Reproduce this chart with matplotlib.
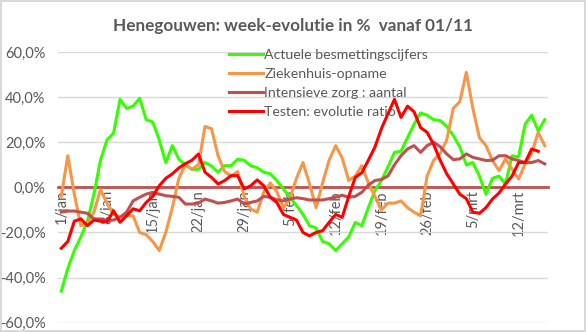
import matplotlib
matplotlib.use("Agg")
import matplotlib.pyplot as plt
import numpy as np

# week-evolutie in %, dagelijks van 1/jan t/m 16/mrt
besmettingen = [
    -46, -36, -28, -22, -15, -3, 12, 21, 24, 39,
    35, 36, 39.5, 30, 29, 21, 11, 18.5, 12.5, 10,
    8, 8, 11, 9.5, 6.7, 9.6, 9.6, 12.5, 12, 9.6,
    8.7, 6.7, 6, 3, -0.7, -4.4, -8, -12, -17, -18,
    -24, -25, -28, -25, -22, -15.5, -17, -9, -1.5, 3,
    9, 15.5, 16, 22, 28, 33, 32, 30, 29.6, 27,
    23, 18, 10, 11, 5, -3, 4, 5, 1.5, 14,
    13.5, 28, 32, 25, 30,
]
ziekenhuis = [
    -4, 14, -3, -17, -16, -11, -1, -7, -12, -13,
    -12.6, -12.6, -20, -21, -24, -28, -20, -9, 4, 10,
    8, 10, 27, 26, 14, 7, 5, 7, -4, -9.6,
    -11, -2, 2, -2, -9, -5, 4, 11, 1.5, -9,
    2, 12, 18.5, 13, 3, 5, 9.6, 2, -4, -10,
    -7, -7, -6, -9, -11, -12.6, 5, 12, 15, 21,
    35, 38, 51, 35, 22, 18.5, 12, 7.4, 12.6, 8,
    3.7, 10.4, 15, 24.4, 18.5,
]
intensieve_zorg = [
    -11, -10.5, -10.5, -11, -11.5, -14, -14, -14.8, -14.5, -13.3,
    -11, -6, -4.4, -3, -2.2, -3, -3.7, -4, -4.4, -7.4,
    -7.4, -7, -5.2, -6, -7, -6.7, -6, -5.2, -7.4, -6.7,
    -6, -4, -4.4, -5.5, -6, -5.2, -4.6, -5, -5.6, -5.6,
    -5.6, -5, -4.4, -3.5, -4.4, -4, -2.2, 1, 3, 3.5,
    5, 10, 14, 17, 18.5, 15.5, 18.5, 20, 18, 14.8,
    12.3, 12.6, 14.8, 13.3, 12.6, 11.9, 12, 14, 14, 12.6,
    11.9, 11, 11, 11.9, 10.4,
]
testen = [
    -27, -24, -15, -14, -17, -14.5, -15, -15.3, -10.4, -15.5,
    -12.6, -9.5, -10.4, -6.7, -4, 0.7, 4, 6, 8.6, 10.5,
    12, 14.8, 6.7, 4.4, 1.5, 3, 5.2, 5.2, -0.7, 0.7,
    3.3, 0.7, -4.4, -6.7, -12, -13.3, -14.5, -20, -21.5, -20,
    -19.2, -15.5, -12, -13.3, -4, 4.4, 6.5, 12, 17.8, 26,
    32.6, 39, 31, 36, 33.5, 26.5, 24.4, 19, 12, 6,
    1.5, -3, -5, -11, -11.5, -9, -5.2, -2.5, 1.5, 5,
    11, 11, 17, 16, np.nan,
]
tick_labels = ["1/jan", "8/jan", "15/jan", "22/jan", "29/jan", "5/feb",
               "12/feb", "19/feb", "26/feb", "5/mrt", "12/mrt"]
y_labels = ["-60,0%", "-40,0%", "-20,0%", "0,0%", "20,0%", "40,0%", "60,0%"]
series_names = ["Actuele besmettingscijfers", "Ziekenhuis-opname",
                "Intensieve zorg : aantal", "Testen: evolutie ratio"]

kleuren = ["#33FF00", "#F79646", "#C0504D", "#FF0000"]
grijs = "#595959"
plt.rcParams["font.family"] = ["Lato", "DejaVu Sans"]

fig = plt.figure(figsize=(5.86, 3.32), dpi=100)
fig.patch.set_edgecolor("#D9D9D9")
fig.patch.set_linewidth(1.5)
ax = fig.add_axes([58 / 586, 1 - 322.7 / 332, 490 / 586, (322.7 - 52) / 332])

x = np.arange(len(besmettingen))
for i, (vals, name) in enumerate(zip([besmettingen, ziekenhuis, intensieve_zorg, testen], series_names)):
    ax.plot(x, np.array(vals) / 100, color=kleuren[i], lw=2.2, label=name, zorder=3 + i)

ax.set_xlim(-0.5, len(x) - 0.5)
ax.set_ylim(-0.6, 0.6)
ax.set_yticks(np.linspace(-0.6, 0.6, 7))
ax.set_yticklabels(y_labels)
ax.grid(axis="y", color="#D9D9D9", lw=1)
ax.set_axisbelow(True)

ax.set_xticks(x[::7])
ax.set_xticklabels(tick_labels)
ax.spines["bottom"].set_position(("data", 0))
ax.spines["bottom"].set_color("#C0504D")
ax.spines["bottom"].set_linewidth(2)
for s in ["top", "right", "left"]:
    ax.spines[s].set_visible(False)
ax.tick_params(axis="x", length=0, pad=2, labelsize=10.5, labelcolor=grijs, labelrotation=90)
ax.tick_params(axis="y", length=0, pad=9, labelsize=10.5, labelcolor=grijs)
for lbl in ax.get_xticklabels():
    lbl.set_va("top")

fig.suptitle("Henegouwen: week-evolutie in %  vanaf 01/11", x=0.5, y=0.945,
             fontsize=12.3, fontweight="bold", color=grijs)

leg = ax.legend(loc="upper left", bbox_to_anchor=(222 / 586, 1 - 42 / 332),
                bbox_transform=fig.transFigure, frameon=False, fontsize=10.2,
                handlelength=2.4, handletextpad=0.1, labelspacing=0.5, borderpad=0)
for t in leg.get_texts():
    t.set_color(grijs)

fig.savefig("out.png", dpi=100)
